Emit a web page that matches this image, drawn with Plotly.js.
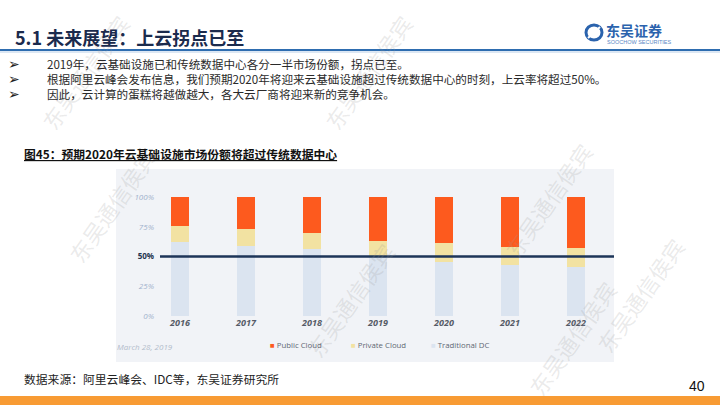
<!DOCTYPE html>
<html>
<head>
<meta charset="utf-8">
<script src="https://cdn.plot.ly/plotly-3.0.1.min.js"></script>
<style>html,body{margin:0;padding:0;background:#fff;}#chart{width:720px;height:405px;}</style>
</head>
<body>
<div id="chart"></div>
<script>
// ---- data ----
const years = ['2016', '2017', '2018', '2019', '2020', '2021', '2022'];
const traditionalDC = [62, 59, 56, 50, 45, 43, 41];
const privateCloud = [14, 14, 14, 13, 16, 15, 16];
const publicCloud = [24, 27, 30, 37, 39, 42, 43];
const seriesNames = ['Public Cloud', 'Private Cloud', 'Traditional DC'];
const yTickVals = [0, 25, 50, 75, 100];
const yTickLabels = ['0%', '25%', '50%', '75%', '100%'];
const thresholdValue = 50;

const pageTitle = '5.1 未来展望：上云拐点已至';
const bullets = [
  '2019年，云基础设施已和传统数据中心各分一半市场份额，拐点已至。',
  '根据阿里云峰会发布信息，我们预期2020年将迎来云基础设施超过传统数据中心的时刻，上云率将超过50%。',
  '因此，云计算的蛋糕将越做越大，各大云厂商将迎来新的竞争机会。'
];
const figCaption = '图45：预期2020年云基础设施市场份额将超过传统数据中心';
const sourceNote = '数据来源：阿里云峰会、IDC等，东吴证券研究所';
const dateNote = 'March 28, 2019';
const pageNum = '40';
const watermark = '东吴通信侯宾';

// ---- styling ----
const W = 720, H = 405;
const px = x => x / W;
const py = y => (H - y) / H;
const colors = {public: '#fd5a1e', private: '#f2e2a2', traditional: '#dbe4f0'};

const barW = 0.27;
const traces = [
  {type: 'bar', x: years, y: traditionalDC, name: seriesNames[2], marker: {color: colors.traditional}, width: barW, showlegend: false, hoverinfo: 'skip'},
  {type: 'bar', x: years, y: privateCloud, name: seriesNames[1], marker: {color: colors.private}, width: barW, showlegend: false, hoverinfo: 'skip'},
  {type: 'bar', x: years, y: publicCloud, name: seriesNames[0], marker: {color: colors.public}, width: barW, showlegend: false, hoverinfo: 'skip'}
];

const tickText = yTickLabels.map((t, i) => yTickVals[i] === thresholdValue
  ? '<b><span style="color:#24344f">' + t + '</span></b>'
  : '<i><span style="color:#9fb1cc">' + t + '</span></i>');

const cjk = '"Noto Sans CJK SC", "Noto Sans", sans-serif';
const annotations = [];
function ann(text, x, y, opts) {
  annotations.push(Object.assign({text: text, x: px(x), y: py(y), xref: 'paper', yref: 'paper',
    xanchor: 'left', yanchor: 'middle', showarrow: false}, opts));
}
// watermarks
const wm = [[85, 72], [368, 72], [112, 205], [548, 200], [350, 300], [640, 295], [572, 338]];
wm.forEach(p => ann(watermark, p[0], p[1], {xanchor: 'center', textangle: -55,
  font: {family: cjk, size: 22, color: 'rgba(150,150,150,0.2)'}}));

ann(pageTitle, 13, 37, {font: {family: cjk, size: 18, weight: 'bold', color: '#1b2b4d'}});
ann('东吴证券', 604, 30, {font: {family: cjk, size: 14, weight: 'bold', color: '#2b63ad'}});
ann('SOOCHOW SECURITIES', 605, 42, {font: {family: 'Liberation Sans, Arial', size: 5.5, color: '#5a88c4'}});
bullets.forEach((b, i) => {
  const y = 64 + i * 15;
  ann('<b>➢</b>', 6, y, {font: {family: 'DejaVu Sans', size: 14, color: '#222'}});
  ann(b, 45, y, {font: {family: cjk, size: 11.6, color: '#2a2a2a'}});
});
ann('<u>' + figCaption + '</u>', 22, 153, {font: {family: cjk, size: 11.8, weight: 'bold', color: '#111'}});
ann(dateNote, 115, 346, {font: {family: 'Open Sans', size: 8, style: 'italic', color: '#b2bccb'}});
const legendX = [268, 349, 429];
const legendColors = [colors.public, colors.private, colors.traditional];
seriesNames.forEach((n, i) => {
  ann('<span style="color:' + legendColors[i] + '">■</span> ' + n, legendX[i], 345,
    {font: {family: 'Open Sans', size: 7.8, color: '#5f6773'}});
});
ann(sourceNote, 22, 378, {font: {family: cjk, size: 11.8, color: '#222'}});
ann(pageNum, 707, 386, {xanchor: 'right', font: {family: 'Liberation Sans, Arial', size: 14, color: '#111'}});

const shapes = [
  // chart panel
  {type: 'rect', xref: 'paper', yref: 'paper', x0: px(116), x1: px(614), y0: py(362), y1: py(169), fillcolor: '#f1f3f7', line: {width: 0}, layer: 'below'},
  // header rule
  {type: 'line', xref: 'paper', yref: 'paper', x0: 0, x1: 1, y0: py(50), y1: py(50), line: {color: '#2e6db0', width: 2}},
  {type: 'line', xref: 'paper', yref: 'paper', x0: 0, x1: 1, y0: py(52), y1: py(52), line: {color: '#b9cfe8', width: 1}},
  // bottom band
  {type: 'rect', xref: 'paper', yref: 'paper', x0: 0, x1: 1, y0: 0, y1: py(396), fillcolor: '#f89b33', line: {width: 0}},
  // logo icon
  {type: 'circle', xref: 'paper', yref: 'paper', x0: px(586), x1: px(602), y0: py(40), y1: py(25), line: {color: '#2b63ad', width: 3}},
  {type: 'line', xref: 'paper', yref: 'paper', x0: px(588), x1: px(600), y0: py(38), y1: py(27), line: {color: '#ffffff', width: 2}},
  // 50% threshold line
  {type: 'line', xref: 'paper', yref: 'y', x0: px(160), x1: px(614), y0: thresholdValue, y1: thresholdValue, line: {color: '#1d3558', width: 2.5}}
];

const layout = {
  width: W, height: H,
  margin: {l: 0, r: 0, t: 0, b: 0},
  paper_bgcolor: '#ffffff', plot_bgcolor: 'rgba(0,0,0,0)',
  barmode: 'stack',
  showlegend: false,
  xaxis: {type: 'category', domain: [px(155), px(614)], range: [-0.379, 6.576],
    showgrid: false, zeroline: false, showline: false, ticks: '',
    tickfont: {family: 'Open Sans', size: 9, weight: 'bold', style: 'italic', color: '#555b66'}},
  yaxis: {domain: [py(316), py(197)], range: [0, 100], tickvals: yTickVals, ticktext: tickText,
    showgrid: false, zeroline: false, showline: false, ticks: '',
    tickfont: {family: 'Open Sans', size: 8}},
  shapes: shapes,
  annotations: annotations
};

Plotly.newPlot('chart', traces, layout, {displayModeBar: false, staticPlot: true});
</script>
</body>
</html>
